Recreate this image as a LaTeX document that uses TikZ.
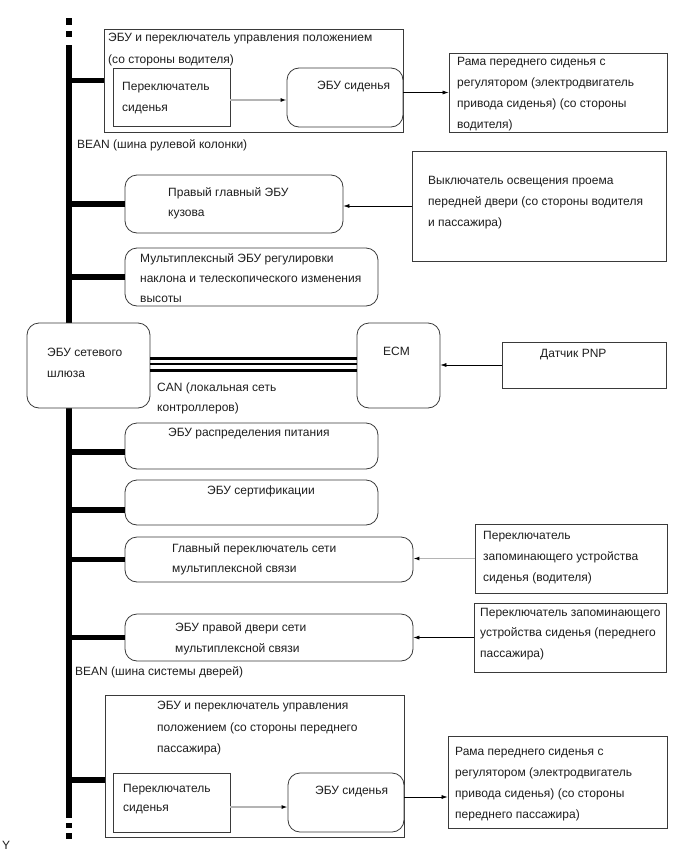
\documentclass[tikz,border=0pt]{standalone}
\usepackage{fontspec}
\setmainfont{Liberation Sans}
\usetikzlibrary{arrows.meta}
\definecolor{edge}{HTML}{3A3A3A}
\definecolor{lgray}{HTML}{B4B4B4}
\definecolor{ink}{HTML}{1E1E1E}
\tikzset{
  sq/.style={draw=edge, line width=0.8bp, fill=white, inner sep=0pt},
  rnd/.style={sq, rounded corners=12bp},
  txt/.style={anchor=base west, inner sep=0pt, text=ink, font=\fontsize{12bp}{14bp}\selectfont},
  arr/.style={draw=black, line width=0.6bp, -{Latex[length=6bp,width=4bp]}},
  garr/.style={draw=lgray, line width=1.2bp, -{Latex[length=6bp,width=4bp,fill=black,color=black]}},
  busline/.style={line width=6bp, black},
  branch/.style={line width=5.5bp, black},
  canthick/.style={line width=3bp, black},
  canthin/.style={line width=1.4bp, black},
}
\newcommand\mkbox[6]{\node[#1, minimum width={(#5-#3)*1bp}, minimum height={(#6-#4)*1bp}] (#2) at ({(#3+#5)/2},{(#4+#6)/2}) {};}
\newcommand\tline[4]{\node[txt] (#1) at (#2,{#3+4}) {#4};}
\begin{document}
\begin{tikzpicture}[x=1bp,y=-1bp]
\useasboundingbox (0,0) rectangle (690,855);
% bus
\coordinate (bt) at (69,45);
\coordinate (bb) at (69,818);
\draw[busline] (bt) -- (bb);
\fill (66,18) rectangle (72,25);
\fill (66,31) rectangle (72,37);
\fill (66,823) rectangle (72,828);
\fill (66,833) rectangle (72,839);

% boxes
\mkbox{sq}{outer1}{104}{29}{403}{132}
\mkbox{sq}{sw1}{113}{68}{230}{126}
\mkbox{rnd}{ecu1}{287}{68}{403}{127}
\mkbox{sq}{frame1}{449}{53}{667}{132}
\mkbox{rnd}{rbody}{125}{175}{343}{233}
\mkbox{sq}{door}{412}{151}{666}{261}
\mkbox{rnd}{tilt}{125}{248}{378}{306}
\mkbox{rnd}{gw}{27}{323}{150}{408}
\mkbox{rnd}{ecm}{357}{323}{440}{408}
\mkbox{sq}{pnp}{502}{342}{666}{388}
\mkbox{rnd}{pwr}{125}{423}{378}{469}
\mkbox{rnd}{cert}{125}{480}{378}{525}
\mkbox{rnd}{mpx}{125}{537}{413}{582}
\mkbox{sq}{mem1}{475}{524}{667}{593}
\mkbox{rnd}{rdoor}{125}{614}{413}{661}
\mkbox{sq}{mem2}{474}{603}{666}{672}
\mkbox{sq}{outer2}{105}{695}{404}{837}
\mkbox{sq}{sw2}{113}{773}{230}{832}
\mkbox{rnd}{ecu2}{288}{773}{404}{832}
\mkbox{sq}{frame2}{448}{736}{667}{828}

% branches from bus
\draw[branch] (outer1.west) -- (outer1.west -| bt);
\draw[branch] (rbody.west) -- (rbody.west -| bt);
\draw[branch] (tilt.west) -- (tilt.west -| bt);
\draw[branch] ([yshift=-6bp]pwr.west) -- ([yshift=-6bp]pwr.west -| bt);
\draw[branch] ([yshift=-7.5bp]cert.west) -- ([yshift=-7.5bp]cert.west -| bt);
\draw[branch] (mpx.west) -- (mpx.west -| bt);
\draw[branch] (rdoor.west) -- (rdoor.west -| bt);
\draw[branch] ([yshift=-14bp]outer2.west) -- ([yshift=-14bp]outer2.west -| bt);

% CAN
\draw[canthick] ([yshift=7bp]gw.east) -- ([yshift=7bp]gw.east -| ecm.west);
\draw[canthin] ([yshift=1.5bp]gw.east) -- ([yshift=1.5bp]gw.east -| ecm.west);
\draw[canthick] ([yshift=-5bp]gw.east) -- ([yshift=-5bp]gw.east -| ecm.west);

% arrows
\draw[garr] ([yshift=-3bp]sw1.east) -- ([yshift=-3bp]sw1.east -| ecu1.west);
\draw[arr] (ecu1.east |- frame1.west) -- (frame1.west);
\draw[arr] (door.west) -- (door.west -| rbody.east);
\draw[arr] (pnp.west) -- (pnp.west -| ecm.east);
\draw[garr] (mem1.west) -- (mem1.west -| mpx.east);
\draw[arr] (mem2.west) -- (mem2.west -| rdoor.east);
\draw[garr] ([yshift=-4.5bp]sw2.east) -- ([yshift=-4.5bp]sw2.east -| ecu2.west);
\draw[arr] ([yshift=5.5bp]ecu2.east) -- ([yshift=5.5bp]ecu2.east -| frame2.west);

% texts
\tline{o1a}{108}{37}{ЭБУ и переключатель управления положением}
\tline{o1b}{108}{59}{(со стороны водителя)}
\tline{s1a}{122}{86}{Переключатель}
\tline{s1b}{122}{107}{сиденья}
\tline{e1a}{317}{85}{ЭБУ сиденья}
\tline{f1a}{457}{61}{Рама переднего сиденья с}
\tline{f1b}{457}{82}{регулятором (электродвигатель}
\tline{f1c}{457}{103}{привода сиденья) (со стороны}
\tline{f1d}{457}{124}{водителя)}
\tline{bean1}{77}{144}{BEAN (шина рулевой колонки)}
\tline{rb1}{168}{192}{Правый главный ЭБУ}
\tline{rb2}{168}{212}{кузова}
\tline{d1}{428}{180}{Выключатель освещения проема}
\tline{d2}{428}{201}{передней двери (со стороны водителя}
\tline{d3}{428}{222}{и пассажира)}
\tline{t1}{140}{258}{Мультиплексный ЭБУ регулировки}
\tline{t2}{140}{278}{наклона и телескопического изменения}
\tline{t3}{140}{298}{высоты}
\tline{g1}{47}{352}{ЭБУ сетевого}
\tline{g2}{47}{373}{шлюза}
\tline{ec}{383}{351}{ECM}
\tline{can1}{157}{387}{CAN (локальная сеть}
\tline{can2}{157}{407}{контроллеров)}
\tline{pn}{540}{353}{Датчик PNP}
\tline{pw}{168}{432}{ЭБУ распределения питания}
\tline{ce}{207}{490}{ЭБУ сертификации}
\tline{mx1}{172}{548}{Главный переключатель сети}
\tline{mx2}{172}{568}{мультиплексной связи}
\tline{m1a}{483}{535}{Переключатель}
\tline{m1b}{483}{556}{запоминающего устройства}
\tline{m1c}{483}{577}{сиденья (водителя)}
\tline{rd1}{175}{627}{ЭБУ правой двери сети}
\tline{rd2}{175}{648}{мультиплексной связи}
\tline{m2a}{480}{612}{Переключатель запоминающего}
\tline{m2b}{480}{632}{устройства сиденья (переднего}
\tline{m2c}{480}{653}{пассажира)}
\tline{bean2}{75}{671}{BEAN (шина системы дверей)}
\tline{o2a}{157}{705}{ЭБУ и переключатель управления}
\tline{o2b}{157}{727}{положением (со стороны переднего}
\tline{o2c}{157}{748}{пассажира)}
\tline{s2a}{123}{788}{Переключатель}
\tline{s2b}{123}{807}{сиденья}
\tline{e2a}{315}{790}{ЭБУ сиденья}
\tline{f2a}{455}{751}{Рама переднего сиденья с}
\tline{f2b}{455}{772}{регулятором (электродвигатель}
\tline{f2c}{455}{793}{привода сиденья) (со стороны}
\tline{f2d}{455}{814}{переднего пассажира)}
\tline{yy}{2}{845}{Y}
\end{tikzpicture}
\end{document}
